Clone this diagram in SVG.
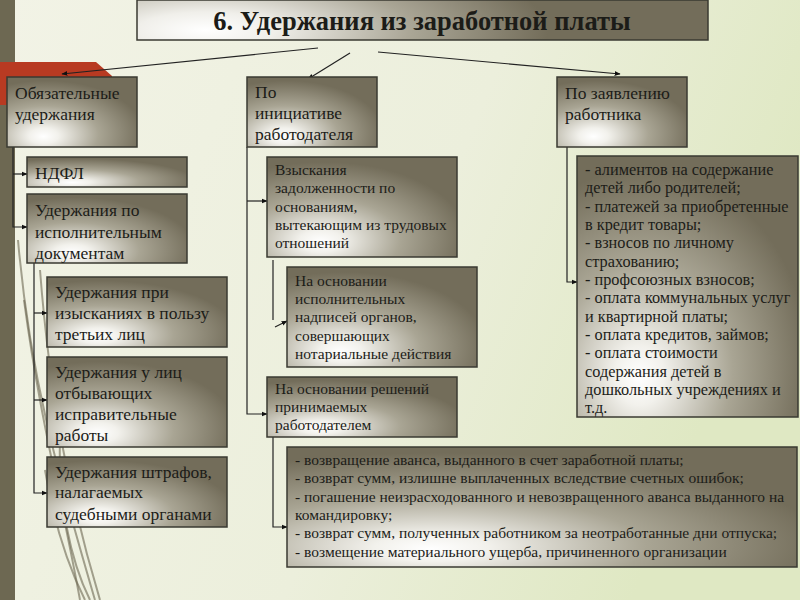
<svg xmlns="http://www.w3.org/2000/svg" width="800" height="600" viewBox="0 0 800 600" font-family="'Liberation Serif', 'DejaVu Serif', serif">
<defs>
<linearGradient id="bg" x1="0" y1="0" x2="1" y2="0.3">
<stop offset="0" stop-color="#f2f3e6"/>
<stop offset="0.6" stop-color="#ecefdc"/>
<stop offset="1" stop-color="#dfe8c3"/>
</linearGradient>
<radialGradient id="box" cx="0.3" cy="0.8" r="0.75" fx="0.28" fy="0.85">
<stop offset="0" stop-color="#ffffff"/>
<stop offset="0.15" stop-color="#f2f1ec"/>
<stop offset="0.55" stop-color="#a9a594"/>
<stop offset="1" stop-color="#736d5a"/>
</radialGradient>
<radialGradient id="title" cx="0.12" cy="0.75" r="0.75" gradientTransform="translate(0.12 0.75) scale(0.8 3) translate(-0.12 -0.75)">
<stop offset="0" stop-color="#ffffff"/>
<stop offset="0.2" stop-color="#f0efea"/>
<stop offset="0.6" stop-color="#aaa696"/>
<stop offset="1" stop-color="#736d5a"/>
</radialGradient>
<marker id="arr" viewBox="0 0 10 10" refX="9" refY="5" markerWidth="6" markerHeight="6" orient="auto" markerUnits="userSpaceOnUse">
<path d="M0,1 L10,5 L0,9 z" fill="#111"/>
</marker>
</defs>
<style>
.b{fill:url(#box);stroke:#3a3a32;stroke-width:1.5}
.t{font-family:'Liberation Serif','DejaVu Serif',serif;fill:#1c1c18}
.l{fill:none;stroke:#222;stroke-width:1.2}
.dec{fill:none;stroke:#6d6852;stroke-width:2;opacity:0.6}
</style>
<rect width="800" height="600" fill="url(#bg)"/>
<g id="decor">
<rect x="0" y="0" width="15" height="600" fill="#6d6852"/>
<polygon points="0,62 96,62 112,76 112,105 0,105" fill="#b83a22"/>
<path class="dec" d="M18,240 C30,380 60,480 95,600"/>
<path class="dec" d="M24,300 C40,420 62,500 80,600"/>
<path class="dec" d="M40,270 C50,400 70,500 100,600" opacity="0.4"/>
<path class="dec" d="M60,440 C58,500 70,560 90,600" stroke-width="3"/>
<path class="dec" d="M45,470 C55,530 70,570 85,600" stroke-width="1.5"/>
</g>
<g id="title-node">
<rect x="137" y="0" width="571" height="40" fill="url(#title)" stroke="#3a3a32" stroke-width="1.5"/>
<text class="t" x="422" y="30" font-size="26.5" font-weight="bold" text-anchor="middle">6. Удержания из заработной платы</text>
</g>
<g id="connectors">
<line class="l" x1="318" y1="48" x2="62" y2="74" marker-end="url(#arr)"/>
<line class="l" x1="350" y1="53" x2="308" y2="79" marker-end="url(#arr)"/>
<line class="l" x1="378" y1="52" x2="620" y2="74" marker-end="url(#arr)"/>
<polyline class="l" points="13,147 13,227 27,227" marker-end="url(#arr)"/>
<line class="l" x1="13" y1="174" x2="27" y2="174" marker-end="url(#arr)"/>
<polyline class="l" points="34,263 34,493 47,493" marker-end="url(#arr)"/>
<line class="l" x1="34" y1="313" x2="47" y2="313" marker-end="url(#arr)"/>
<line class="l" x1="34" y1="400" x2="47" y2="400" marker-end="url(#arr)"/>
<polyline class="l" points="247,147 247,414 267,414" marker-end="url(#arr)"/>
<line class="l" x1="247" y1="201" x2="267" y2="201" marker-end="url(#arr)"/>
<line class="l" x1="273" y1="260" x2="273" y2="320"/>
<line class="l" x1="275" y1="327" x2="287" y2="321" marker-end="url(#arr)"/>
<polyline class="l" points="273,437 273,527 287,527" marker-end="url(#arr)"/>
<polyline class="l" points="567,147 567,282 577,282" marker-end="url(#arr)"/>
</g>
<g id="n-obyaz">
<rect class="b" x="7" y="77" width="130" height="70"/>
<text class="t" font-size="17.5"><tspan x="15" y="99">Обязательные</tspan><tspan x="15" y="120">удержания</tspan></text>
</g>
<g id="n-init">
<rect class="b" x="247" y="77" width="130" height="70"/>
<text class="t" font-size="17.5"><tspan x="255" y="98">По</tspan><tspan x="255" y="119">инициативе</tspan><tspan x="255" y="140">работодателя</tspan></text>
</g>
<g id="n-zayav">
<rect class="b" x="557" y="77" width="130" height="70"/>
<text class="t" font-size="17.5"><tspan x="565" y="99">По заявлению</tspan><tspan x="565" y="120">работника</tspan></text>
</g>
<g id="n-ndfl">
<rect class="b" x="27" y="157" width="160" height="30"/>
<text class="t" font-size="17.5" x="35" y="179">НДФЛ</text>
</g>
<g id="n-isp">
<rect class="b" x="27" y="194" width="160" height="69"/>
<text class="t" font-size="17.5"><tspan x="35" y="216">Удержания  по</tspan><tspan x="35" y="238">исполнительным</tspan><tspan x="35" y="259">документам</tspan></text>
</g>
<g id="n-izysk">
<rect class="b" x="47" y="277" width="180" height="70"/>
<text class="t" font-size="17.5"><tspan x="55" y="298">Удержания  при</tspan><tspan x="55" y="319">изысканиях  в пользу</tspan><tspan x="55" y="340">третьих  лиц</tspan></text>
</g>
<g id="n-otbyv">
<rect class="b" x="47" y="357" width="180" height="90"/>
<text class="t" font-size="17.5"><tspan x="55" y="378">Удержания  у лиц</tspan><tspan x="55" y="399">отбывающих</tspan><tspan x="55" y="420">исправительные</tspan><tspan x="55" y="441">работы</tspan></text>
</g>
<g id="n-shtraf">
<rect class="b" x="47" y="457" width="180" height="70"/>
<text class="t" font-size="17.5"><tspan x="55" y="478">Удержания  штрафов,</tspan><tspan x="55" y="498">налагаемых</tspan><tspan x="55" y="520">судебными  органами</tspan></text>
</g>
<g id="n-vzysk">
<rect class="b" x="267" y="157" width="190" height="100"/>
<text class="t" font-size="15.5"><tspan x="275" y="175">Взыскания</tspan><tspan x="275" y="193">задолженности по</tspan><tspan x="275" y="212">основаниям,</tspan><tspan x="275" y="230">вытекающим из трудовых</tspan><tspan x="275" y="248">отношений</tspan></text>
</g>
<g id="n-notar">
<rect class="b" x="287" y="267" width="190" height="100"/>
<text class="t" font-size="15.5"><tspan x="295" y="286">На основании</tspan><tspan x="295" y="304">исполнительных</tspan><tspan x="295" y="322">надписей органов,</tspan><tspan x="295" y="341">совершающих</tspan><tspan x="295" y="359">нотариальные действия</tspan></text>
</g>
<g id="n-resh">
<rect class="b" x="267" y="377" width="190" height="60"/>
<text class="t" font-size="15.5"><tspan x="275" y="394">На основании решений</tspan><tspan x="275" y="412">принимаемых</tspan><tspan x="275" y="430">работодателем</tspan></text>
</g>
<g id="n-rabotnik-list">
<rect class="b" x="577" y="156" width="221" height="261"/>
<text class="t" font-size="16.3"><tspan x="585" y="175">- алиментов на содержание</tspan><tspan x="585" y="193">детей либо родителей;</tspan><tspan x="585" y="212">- платежей за приобретенные</tspan><tspan x="585" y="230">в кредит товары;</tspan><tspan x="585" y="248">- взносов по личному</tspan><tspan x="585" y="267">страхованию;</tspan><tspan x="585" y="285">- профсоюзных взносов;</tspan><tspan x="585" y="303">- оплата коммунальных услуг</tspan><tspan x="585" y="322">и квартирной платы;</tspan><tspan x="585" y="340">- оплата кредитов, займов;</tspan><tspan x="585" y="358">- оплата стоимости</tspan><tspan x="585" y="377">содержания детей в</tspan><tspan x="585" y="395">дошкольных учреждениях и</tspan><tspan x="585" y="413">т.д.</tspan></text>
</g>
<g id="n-rabotodatel-list">
<rect class="b" x="287" y="447" width="510" height="120"/>
<text class="t" font-size="15.5"><tspan x="295" y="465">- возвращение аванса, выданного в счет заработной платы;</tspan><tspan x="295" y="483">- возврат сумм, излишне выплаченных вследствие счетных ошибок;</tspan><tspan x="295" y="502">- погашение неизрасходованного и невозвращенного аванса выданного на</tspan><tspan x="295" y="520">командировку;</tspan><tspan x="295" y="538">- возврат сумм, полученных работником за неотработанные дни отпуска;</tspan><tspan x="295" y="557">- возмещение материального ущерба, причиненного организации</tspan></text>
</g>
</svg>
